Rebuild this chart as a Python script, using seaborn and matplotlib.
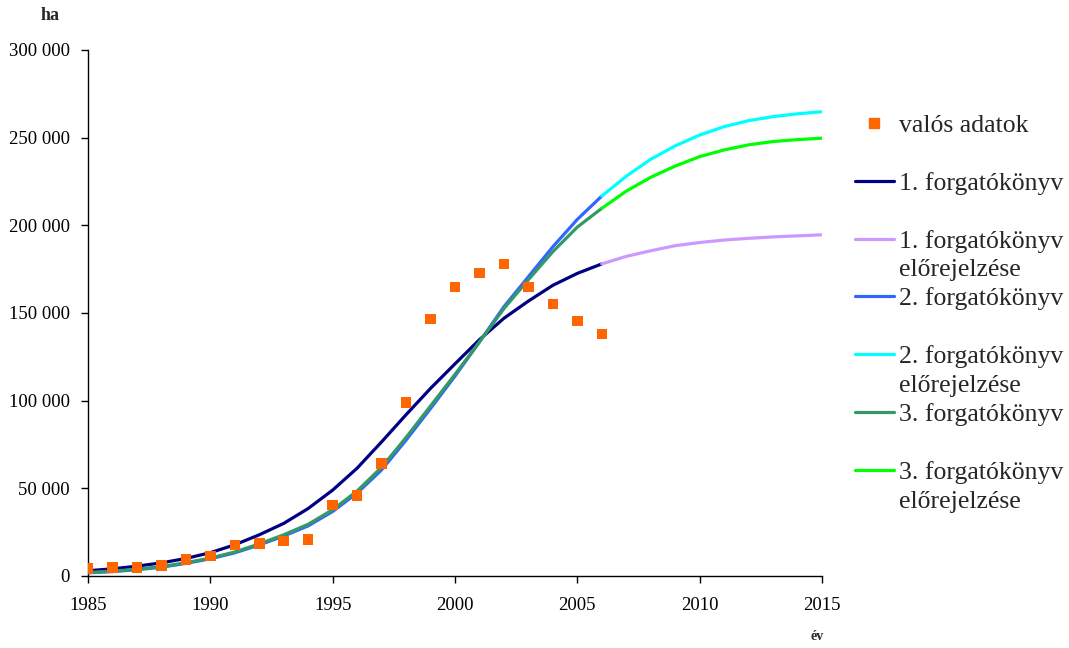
import matplotlib
matplotlib.use("Agg")
import matplotlib.pyplot as plt
import seaborn as sns
import pandas as pd
from matplotlib.lines import Line2D
from matplotlib.ticker import FuncFormatter, MultipleLocator

# ---- data ----
years_obs = list(range(1985, 2007))
observed = [4400, 4700, 4700, 5900, 9500, 11400, 17700, 18400, 20000, 20900,
            40500, 45800, 64100, 98800, 146600, 164800, 172800, 178000,
            164800, 155100, 145400, 138000]

years_fit = list(range(1985, 2007))
years_fc = list(range(2006, 2016))

s1_fit = [3000, 4100, 5600, 7500, 10000, 13300, 17800, 23500, 30000, 38500,
          49000, 61500, 76500, 92000, 107000, 121000, 134800, 147000, 156800,
          165800, 172600, 178000]
s1_fc = [178000, 182300, 185500, 188400, 190200, 191600, 192600, 193400,
         194000, 194600]

s2_fit = [1800, 2500, 3600, 5000, 7200, 9800, 13200, 17700, 22800, 28600,
          36800, 47300, 60500, 77500, 95500, 114000, 133500, 153600, 170700,
          187800, 203400, 216700]
s2_fc = [216700, 228000, 237700, 245300, 251500, 256300, 259700, 262000,
         263600, 264800]

s3_fit = [2000, 2700, 3900, 5300, 7600, 10200, 13700, 18300, 23500, 29500,
          37800, 48500, 62000, 79000, 97000, 115000, 133500, 152500, 169000,
          185000, 199000, 209700]
s3_fc = [209700, 219500, 227400, 233800, 239200, 243000, 245900, 247800,
         248900, 249700]

labels = ["valós adatok", "1. forgatókönyv", "1. forgatókönyv", "előrejelzése",
          "2. forgatókönyv", "2. forgatókönyv", "előrejelzése",
          "3. forgatókönyv", "3. forgatókönyv", "előrejelzése"]

x_ticks = [1985, 1990, 1995, 2000, 2005, 2010, 2015]

# ---- style ----
sns.set_style("white")
plt.rcParams["font.family"] = ["Liberation Serif", "DejaVu Serif"]

fig = plt.figure(figsize=(10.69, 6.48), dpi=100)
ax = fig.add_axes([88 / 1069, 72 / 648, (822 - 88) / 1069, (576 - 50) / 648])

lw = 2.3
series = [
    (years_fit, s1_fit, "#000080"),
    (years_fc, s1_fc, "#CC99FF"),
    (years_fit, s2_fit, "#3366FF"),
    (years_fc, s2_fc, "#00FFFF"),
    (years_fit, s3_fit, "#339966"),
    (years_fc, s3_fc, "#00FF00"),
]
for i, (xs, ys, col) in enumerate(series):
    df = pd.DataFrame({"x": xs, "y": ys})
    sns.lineplot(data=df, x="x", y="y", ax=ax, color=col, linewidth=lw,
                 zorder=2 + i, legend=False)

df_obs = pd.DataFrame({"x": years_obs, "y": observed})
sns.scatterplot(data=df_obs, x="x", y="y", ax=ax, marker="s", s=58,
                color="#FF6600", edgecolor="none", zorder=10, legend=False)

ax.set_xlim(1985, 2015)
ax.set_ylim(0, 300000)
ax.set_xticks(x_ticks)
ax.yaxis.set_major_locator(MultipleLocator(50000))
ax.yaxis.set_major_formatter(FuncFormatter(lambda v, p: f"{int(v):,}".replace(",", " ")))
ax.set_xlabel("")
ax.set_ylabel("")
for side in ["top", "right"]:
    ax.spines[side].set_visible(False)
for side in ["left", "bottom"]:
    ax.spines[side].set_color("black")
    ax.spines[side].set_linewidth(1.0)
ax.tick_params(axis="both", direction="out", length=5, width=1, color="black",
               labelsize=13.5, labelcolor="black", left=True, bottom=True)
ax.tick_params(axis="y", pad=8)
ax.tick_params(axis="x", pad=10)

fig.text(50 / 1069, 1 - 15 / 648, "ha", fontsize=13, fontweight="bold",
         ha="center", va="center")
fig.text(817 / 1069, 1 - 637 / 648, "év", fontsize=10, fontweight="bold",
         ha="center", va="center")

# ---- legend ----
def ln(c):
    return Line2D([], [], color=c, linewidth=lw)

blank = Line2D([], [], linestyle="none")
handles = [
    Line2D([], [], marker="s", linestyle="none", color="#FF6600", markersize=7),
    blank,
    ln("#000080"), blank,
    ln("#CC99FF"), blank,
    ln("#3366FF"), blank,
    ln("#00FFFF"), blank,
    ln("#339966"), blank,
    ln("#00FF00"), blank,
]
leg_labels = [labels[0], " ", labels[1], " ", labels[2], labels[3],
              labels[4], " ", labels[5], labels[6], labels[7], " ",
              labels[8], labels[9]]
ax.legend(handles, leg_labels, loc="upper left",
          bbox_to_anchor=(855 / 1069, 1 - 114 / 648),
          bbox_transform=fig.transFigure, frameon=False, fontsize=18.5,
          handlelength=1.5, handletextpad=0.2, labelspacing=0.23,
          borderpad=0, borderaxespad=0)

fig.savefig("out.png", dpi=100, facecolor="white")
